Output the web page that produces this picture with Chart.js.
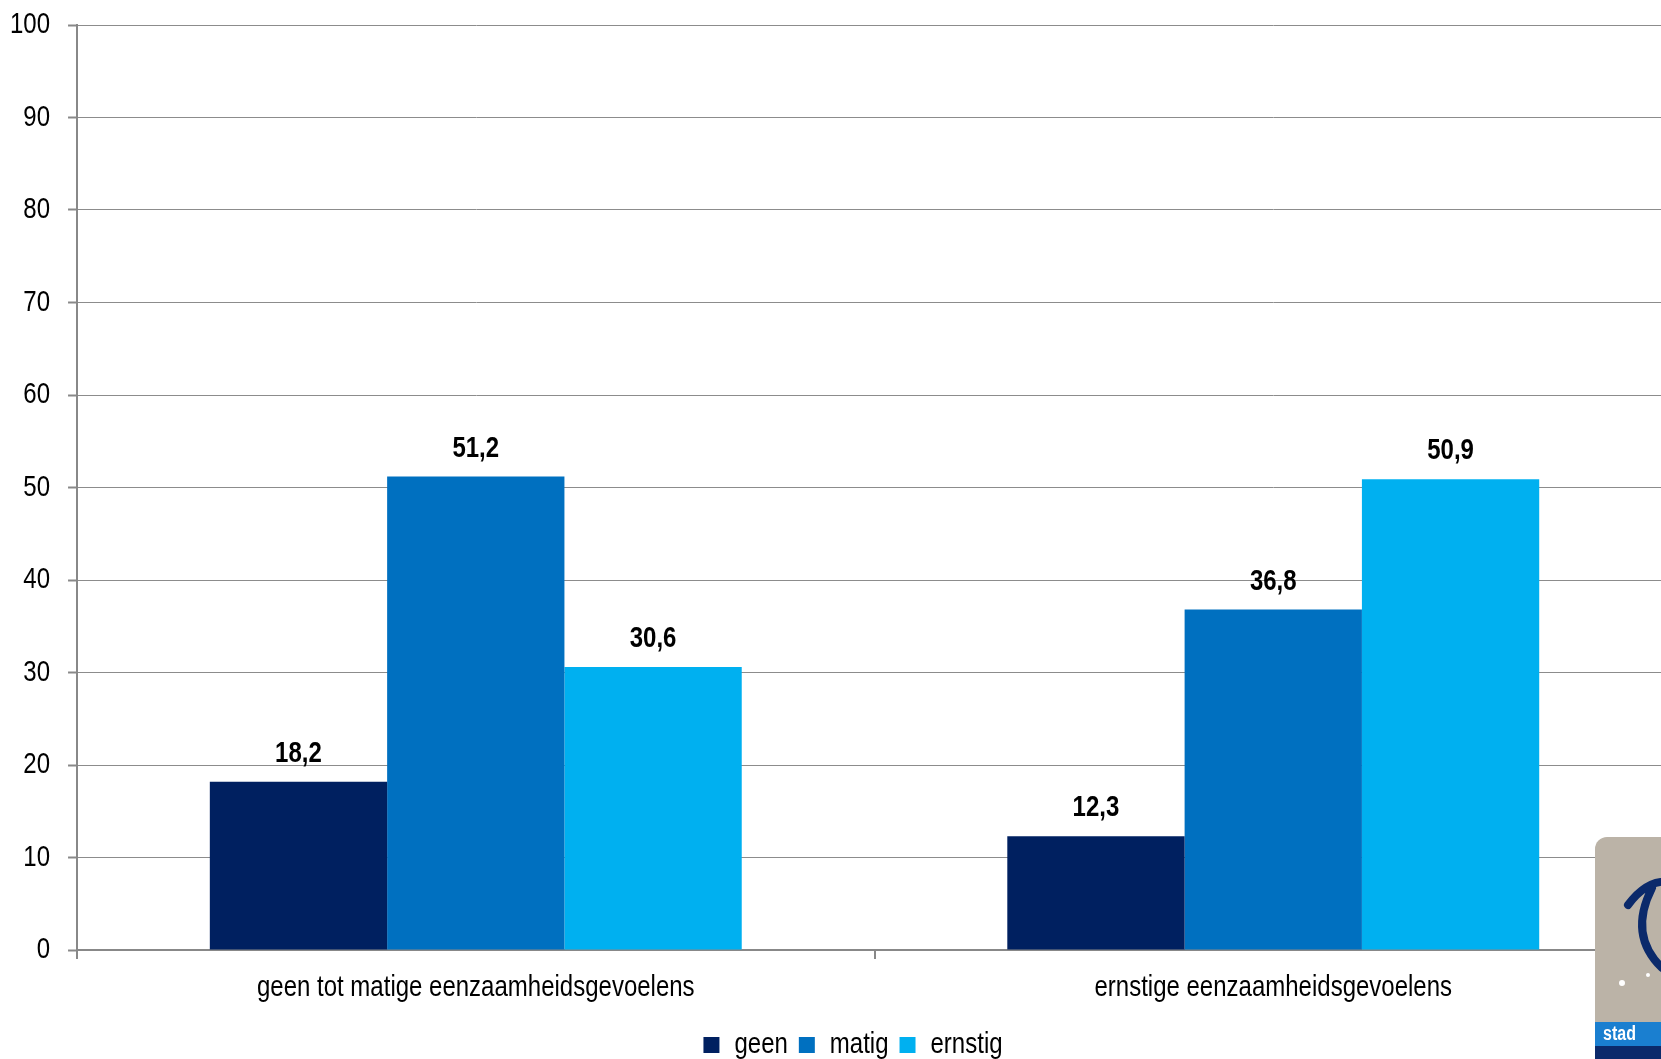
<!DOCTYPE html>
<html>
<head>
<meta charset="utf-8">
<script src="https://cdn.jsdelivr.net/npm/chart.js@4.4.1/dist/chart.umd.min.js"></script>
<style>
  html, body { margin: 0; padding: 0; background: #fff; overflow: hidden; }
  #wrap { position: absolute; left: 0; top: -11px; width: 1680px; height: 1070px; }
</style>
</head>
<body>
<div id="wrap"><canvas id="chart"></canvas></div>
<script>
// categorieën en reeksen
const categories = ['geen tot matige eenzaamheidsgevoelens', 'ernstige eenzaamheidsgevoelens'];
const seriesNames = ['geen', 'matig', 'ernstig'];
const geen = [18.2, 12.3];
const matig = [51.2, 36.8];
const ernstig = [30.6, 50.9];
const yTicks = [0, 10, 20, 30, 40, 50, 60, 70, 80, 90, 100];

const colors = ['#002060', '#0070C0', '#00B0F0'];
const FONT = "'Liberation Sans', Arial, sans-serif";
const NARROW = 0.8; // smalle letter zoals Arial Narrow

const ctx = document.getElementById('chart').getContext('2d');

// tekst smaller tekenen (geen Arial Narrow beschikbaar)
const origFillText = ctx.fillText.bind(ctx);
const origMeasure = ctx.measureText.bind(ctx);
ctx.fillText = function (text, x, y, maxWidth) {
  this.save();
  this.translate(x, y);
  this.scale(NARROW, 1);
  origFillText(text, 0, 0);
  this.restore();
};
ctx.measureText = function (text) {
  const m = origMeasure(text);
  return {
    width: m.width * NARROW,
    actualBoundingBoxAscent: m.actualBoundingBoxAscent,
    actualBoundingBoxDescent: m.actualBoundingBoxDescent
  };
};

// legenda iets naar rechts/onder, zoals in het origineel
const legendShift = {
  id: 'legendShift',
  afterLayout(chart) {
    const lg = chart.legend;
    lg.left += 21; lg.right += 21;
    lg.top += 2; lg.bottom += 2;
  }
};

// waarden boven de staven
const valueLabels = {
  id: 'valueLabels',
  afterDatasetsDraw(chart) {
    const c = chart.ctx;
    c.save();
    c.font = 'bold 30px ' + FONT;
    c.fillStyle = '#000';
    c.textAlign = 'center';
    c.textBaseline = 'middle';
    chart.data.datasets.forEach((ds, i) => {
      chart.getDatasetMeta(i).data.forEach((bar, j) => {
        c.fillText(ds.data[j].toFixed(1).replace('.', ','), bar.x, bar.y - 28);
      });
    });
    c.restore();
  }
};

// logo rechtsonder (stad Turnhout), 11px extra door verschoven canvas
const logo = {
  id: 'logo',
  afterDraw(chart) {
    const c = chart.ctx;
    c.save();
    c.translate(0, 11);
    c.fillStyle = '#bbb3a7';
    c.beginPath();
    c.roundRect(1595, 837, 120, 260, 12);
    c.fill();
    c.strokeStyle = '#0b2a6b';
    c.lineWidth = 8;
    c.lineCap = 'round';
    c.beginPath();
    c.moveTo(1628, 905);
    c.quadraticCurveTo(1648, 878, 1672, 882);
    c.moveTo(1652, 888);
    c.quadraticCurveTo(1628, 935, 1662, 968);
    c.stroke();
    c.fillStyle = '#fff';
    c.beginPath();
    c.arc(1622, 983, 3, 0, Math.PI * 2);
    c.arc(1648, 975, 2, 0, Math.PI * 2);
    c.fill();
    c.fillStyle = '#1a7fd0';
    c.fillRect(1595, 1022, 70, 24);
    c.fillStyle = '#0b2a6b';
    c.fillRect(1595, 1046, 70, 13);
    c.fillStyle = '#fff';
    c.font = 'bold 20px ' + FONT;
    c.textBaseline = 'middle';
    c.fillText('stad', 1603, 1034);
    c.restore();
  }
};

new Chart(ctx, {
  type: 'bar',
  data: {
    labels: categories,
    datasets: [
      { label: seriesNames[0], data: geen, backgroundColor: colors[0] },
      { label: seriesNames[1], data: matig, backgroundColor: colors[1] },
      { label: seriesNames[2], data: ernstig, backgroundColor: colors[2] }
    ]
  },
  options: {
    responsive: true,
    maintainAspectRatio: false,
    animation: false,
    layout: { padding: { top: 0, right: 8, left: -8, bottom: -9 } },
    datasets: { bar: { categoryPercentage: 0.667, barPercentage: 1.0 } },
    scales: {
      x: {
        grid: { offset: true, drawOnChartArea: false, tickLength: 9, color: '#888', lineWidth: 2 },
        border: { color: '#888', width: 2 },
        ticks: { color: '#000', font: { family: FONT, size: 30 }, padding: 11 }
      },
      y: {
        min: 0, max: 100,
        afterBuildTicks(axis) { axis.ticks = yTicks.map(v => ({ value: v })); },
        grid: { color: '#8c8c8c', lineWidth: 1, borderDash: [2, 2], tickBorderDash: [], tickColor: '#888', tickWidth: 2, tickLength: 9 },
        border: { color: '#888', width: 2 },
        ticks: { color: '#000', font: { family: FONT, size: 30 }, padding: 18 }
      }
    },
    plugins: {
      legend: {
        position: 'bottom',
        labels: { color: '#000', boxWidth: 16, boxHeight: 16, padding: 11, font: { family: FONT, size: 30 } }
      },
      tooltip: { enabled: false }
    }
  },
  plugins: [legendShift, valueLabels, logo]
});
</script>
</body>
</html>
